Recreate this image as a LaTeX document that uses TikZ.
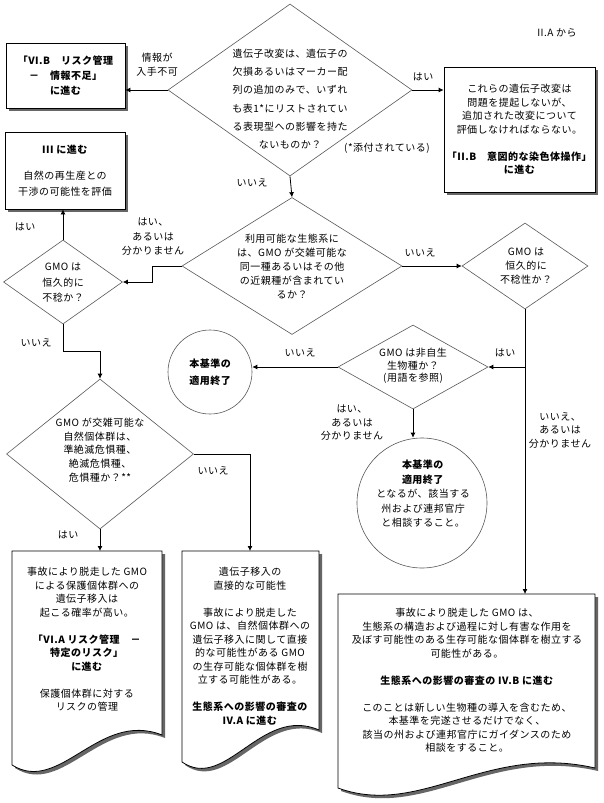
\documentclass[tikz,border=0pt]{standalone}
\usepackage{fontspec}
\setmainfont{Noto Sans CJK JP}[LetterSpace=5]
\usepackage{tikz}
\usetikzlibrary{shapes.geometric,arrows.meta,shadows}

\begin{document}
\begin{tikzpicture}[
  x=1pt, y=-1pt,
  every node/.style={font=\fontsize{10}{13.5}\selectfont},
  mydia/.style={
    diamond,
    draw=black!65,
    line width=0.6pt,
    inner sep=0pt
  },
  mybox/.style={
    rectangle,
    draw,
    fill=white,
    line width=0.8pt,
    inner sep=0pt,
    align=center,
    drop shadow={shadow xshift=3pt,shadow yshift=-3pt,fill=black!60,opacity=1}
  },
  mycirc/.style={
    circle,
    draw=black!65,
    line width=0.6pt,
    inner sep=0pt
  },
  mytext/.style={align=center,inner sep=0pt},
  myarrow/.style={-{Latex[length=5pt,width=5pt]},line width=0.8pt}
]
\fill[white] (0,0) rectangle (603,803);
\useasboundingbox (0,0) rectangle (603,803);

\node (src) at (557,33) {II.A から};

% decisions
\node[mydia,minimum width=244pt,minimum height=172pt] (q1) at (290,90) {};
\node[mytext,font=\fontsize{10}{18.3}\selectfont] (q1t) at (290,99)
  {遺伝子改変は、遺伝子の\\欠損あるいはマーカー配\\列の追加のみで、いずれ\\も表1*にリストされてい\\る表現型への影響を持た\\ないものか？};
\node[mydia,minimum width=220pt,minimum height=137pt] (q2) at (292,266) {};
\node[mytext,font=\fontsize{10}{14}\selectfont] (q2t) at (292,266)
  {利用可能な生態系に\\は、GMO が交雑可能な\\同一種あるいはその他\\の近親種が含まれてい\\るか？};
\node[mydia,minimum width=119pt,minimum height=84pt] (q3) at (63,282) {};
\node[mytext,font=\fontsize{10}{15.5}\selectfont] (q3t) at (63,283) {GMO は\\恒久的に\\不稔か？};
\node[mydia,minimum width=126pt,minimum height=86pt] (q4) at (525,266) {};
\node[mytext,font=\fontsize{10}{14}\selectfont] (q4t) at (526,266) {GMO は\\恒久的に\\不稔性か？};
\node[mydia,minimum width=150pt,minimum height=84pt] (q5) at (413,367) {};
\node[mytext,font=\fontsize{10}{12.5}\selectfont] (q5t) at (413,366) {GMO は非自生\\生物種か？\\(用語を参照)};
\node[mydia,minimum width=187pt,minimum height=150pt] (q6) at (100,454) {};
\node[mytext,font=\fontsize{10}{13.75}\selectfont] (q6t) at (100,450)
  {GMO が交雑可能な\\自然個体群は、\\準絶滅危惧種、\\絶滅危惧種、\\危惧種か？**};

% ends
\node[mycirc,minimum size=84pt,align=center,font=\fontsize{10}{17}\selectfont\bfseries] (c1) at (210,372)
  {本基準の\\適用終了};
\node[mycirc,minimum size=130pt] (c2) at (422,503) {};
\node[mytext,font=\fontsize{10}{14.5}\selectfont] (c2t) at (423,494)
  {\textbf{本基準の}\\\textbf{適用終了}\\となるが、該当する\\州および連邦官庁\\と相談すること。};

% boxes
\node[mybox,minimum width=119pt,minimum height=65pt,font=\fontsize{10}{15}\selectfont\bfseries] (b0) at (65.5,75.5)
  {「VI.B　リスク管理\\－　情報不足」\\に進む};
\node[mybox,minimum width=151pt,minimum height=125pt] (b1) at (519.5,129.5)
  {これらの遺伝子改変は\\問題を提起しないが、\\追加された改変について\\評価しなければならない。\\[13.5pt]
   \textbf{「II.B　意図的な染色体操作」}\\\textbf{に進む}};
\node[mybox,minimum width=120pt,minimum height=77pt,font=\fontsize{10}{16}\selectfont] (b2) at (65,170.5)
  {\textbf{III に進む}\\[10pt]自然の再生産との\\干渉の可能性を評価};

% documents
\foreach \xa/\ya/\xb/\yr/\yl in {12/551/162/735/765,182/551/319/730/762,338/594/595/768/788}{
  \fill[black!60,shift={(3,3)}] (\xa,\ya) -- (\xb,\ya) -- (\xb,\yr)
    .. controls ({\xb-0.42*(\xb-\xa)},{\yr-25}) and ({\xa+0.32*(\xb-\xa)},{\yl+30}) .. (\xa,\yl) -- cycle;
  \filldraw[fill=white,line width=0.8pt] (\xa,\ya) -- (\xb,\ya) -- (\xb,\yr)
    .. controls ({\xb-0.42*(\xb-\xa)},{\yr-25}) and ({\xa+0.32*(\xb-\xa)},{\yl+30}) .. (\xa,\yl) -- cycle;
}
\coordinate (b4top) at (100,551);
\coordinate (b5top) at (250,551);
\coordinate (b7top) at (525,594);
\node[mytext] (b4) at (87,639.5)
  {事故により脱走した GMO\\による保護個体群への\\遺伝子移入は\\起こる確率が高い。\\[13.5pt]
   \textbf{「VI.A リスク管理　－}\\\textbf{特定のリスク」}\\\textbf{に進む}\\[13.5pt]
   保護個体群に対する\\リスクの管理};
\node[mytext] (b5) at (250,646)
  {遺伝子移入の\\直接的な可能性\\[13.5pt]
   事故により脱走した\\GMO は、自然個体群への\\遺伝子移入に関して直接\\的な可能性がある GMO\\の生存可能な個体群を樹\\立する可能性がある。\\[13.5pt]
   \textbf{生態系への影響の審査の}\\\textbf{IV.A に進む}};
\node[mytext] (b7) at (467,680.5)
  {事故により脱走した GMO は、\\生態系の構造および過程に対し有害な作用を\\及ぼす可能性のある生存可能な個体群を樹立する\\可能性がある。\\[13.5pt]
   \textbf{生態系への影響の審査の IV.B に進む}\\[13.5pt]
   このことは新しい生物種の導入を含むため、\\本基準を完遂させるだけでなく、\\該当の州および連邦官庁にガイダンスのため\\相談をすること。};

% connectors
\draw[myarrow] (q1.west) -- (q1.west -| b0.east);
\draw[myarrow] (q1.east) -- (q1.east -| b1.west);
\draw[myarrow] (q1.south) -- (q2.north);
\draw[myarrow] (q2.east) -- (q4.west);
\draw[myarrow] (q2.west) -- ++(-29,0) |- (q3.east);
\draw[myarrow] (q3.north) -- (q3.north |- b2.south);
\draw[myarrow] (q3.south) -- ++(0,27) -| (q6.north);
\draw[myarrow] (q6.east) -| (b5top);
\draw[myarrow] (q6.south) -- (b4top);
\draw[myarrow] (q4.south) -- (b7top);
\draw[myarrow] (q4.south |- q5.east) -- (q5.east);
\draw[myarrow] (q5.west) -- (q5.west -| c1.east);
\draw[myarrow] (q5.south) -- (q5.south |- c2.north);

% labels
\node[align=center,font=\fontsize{10}{14}\selectfont] (l1) at (157,65) {情報が\\入手不可};
\node (l2) at (423,77) {はい};
\node (l3) at (387,148) {(*添付されている)};
\node (l4) at (252,183) {いいえ};
\node (l5) at (25,227) {はい};
\node[align=center,font=\fontsize{10}{14.5}\selectfont] (l6) at (153,237) {はい、\\あるいは\\分かりません};
\node (l7) at (420,253) {いいえ};
\node (l8) at (36,343) {いいえ};
\node (l9) at (300,353) {いいえ};
\node (l10) at (505,353) {はい};
\node[align=center] (l11) at (352,423) {はい、\\あるいは\\分かりません};
\node[align=center] (l12) at (560,430) {いいえ、\\あるいは\\分かりません};
\node (l13) at (213,471) {いいえ};
\node (l14) at (68,535) {はい};
\end{tikzpicture}
\end{document}
